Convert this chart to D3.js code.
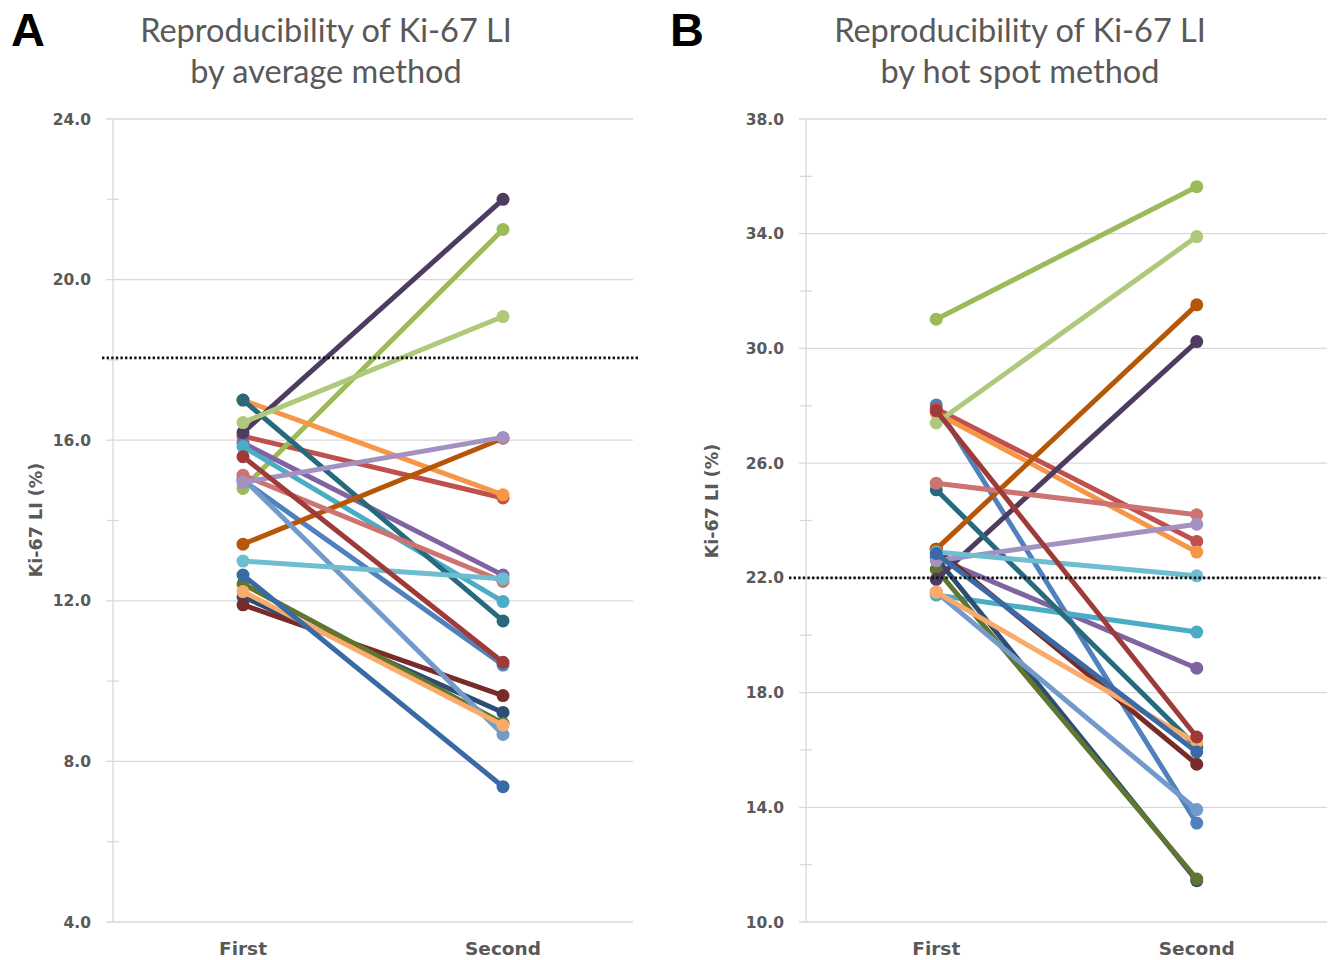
<!DOCTYPE html>
<html>
<head>
<meta charset="utf-8">
<script src="https://cdn.jsdelivr.net/npm/d3@7"></script>
<style>
  html, body { margin: 0; padding: 0; background: #ffffff; }
  svg { display: block; }
</style>
</head>
<body>
<svg id="chart" width="1333" height="960"></svg>
<script>
// ---------- DATA ----------
const categories = ["First", "Second"];
const seriesNames = ["S1","S2","S3","S4","S5","S6","S7","S8","S9","S10","S11","S12","S13","S14","S15","S16","S17","S18","S19","S20"];
const seriesColors = ["#4F81BD","#C0504D","#9BBB59","#8064A2","#4BACC6","#F79646",
                      "#2C4D75","#772C2A","#5F7530","#4D3B62","#276A7C","#B65708",
                      "#729ACA","#CD7371","#AFC97A","#A391C2","#6FBDD1","#F9AB6B",
                      "#3A6AA6","#9E3B39"];
// Panel A: average method  [First, Second]
const averageFirst  = [15.0, 16.1, 14.8, 15.93, 15.84, 17.0, 12.1, 11.9, 12.42, 16.19, 17.0, 13.41, 15.05, 15.13, 16.44, 14.95, 12.99, 12.23, 12.64, 15.59];
const averageSecond = [10.4, 14.56, 21.25, 12.64, 11.98, 14.64, 9.22, 9.64, 8.95, 22.0, 11.5, 16.05, 8.67, 12.48, 19.08, 16.07, 12.55, 8.9, 7.37, 10.47];
// Panel B: hot spot method  [First, Second]
const hotspotFirst  = [28.03, 27.9, 31.02, 22.7, 21.4, 27.75, 22.7, 23.0, 22.3, 21.95, 25.07, 23.0, 21.5, 25.3, 27.4, 22.6, 22.9, 21.5, 22.85, 27.83];
const hotspotSecond = [13.45, 23.27, 35.64, 18.85, 20.11, 22.9, 11.44, 15.5, 11.5, 30.24, 16.1, 31.52, 13.92, 24.2, 33.9, 23.87, 22.07, 16.25, 15.93, 16.45];

const averageTicks = [4, 8, 12, 16, 20, 24];
const averageMinor = [6, 10, 14, 18, 22];
const hotspotTicks = [10, 14, 18, 22, 26, 30, 34, 38];
const hotspotMinor = [12, 16, 20, 24, 28, 32, 36];
const averageCutoff = 18.05;
const hotspotCutoff = 22.0;

const yTitle = "Ki-67 LI (%)";
const panels = [
  { letter: "A", title: ["Reproducibility of Ki-67 LI", "by average method"],
    first: averageFirst, second: averageSecond, domain: [4, 24], ticks: averageTicks, minor: averageMinor,
    cutoff: averageCutoff,
    x0: 113, x1: 633, letterX: 11, titleX: 326, yTitleX: 36, yTitleY: 520, cutX: [102, 638] },
  { letter: "B", title: ["Reproducibility of Ki-67 LI", "by hot spot method"],
    first: hotspotFirst, second: hotspotSecond, domain: [10, 38], ticks: hotspotTicks, minor: hotspotMinor,
    cutoff: hotspotCutoff,
    x0: 806, x1: 1327, letterX: 670, titleX: 1020, yTitleX: 712, yTitleY: 501, cutX: [789, 1322] }
];

// ---------- DRAW ----------
const svg = d3.select("#chart");
const plotTop = 119, plotBottom = 922;
const grid = "#d9d9d9";
const textGray = "#595959";

panels.forEach(p => {
  const g = svg.append("g");
  const y = d3.scaleLinear().domain(p.domain).range([plotBottom, plotTop]);
  const x = d3.scalePoint().domain(categories).range([p.x0, p.x1]).padding(0.5);

  // gridlines
  g.selectAll("line.grid").data(p.ticks).join("line")
    .attr("x1", p.x0 - 7).attr("x2", p.x1)
    .attr("y1", d => y(d)).attr("y2", d => y(d))
    .attr("stroke", grid).attr("stroke-width", 1.3);
  // minor ticks
  g.selectAll("line.minor").data(p.minor).join("line")
    .attr("x1", p.x0 - 6).attr("x2", p.x0 + 6)
    .attr("y1", d => y(d)).attr("y2", d => y(d))
    .attr("stroke", grid).attr("stroke-width", 1.3);
  // y axis line
  g.append("line").attr("x1", p.x0).attr("x2", p.x0).attr("y1", plotTop).attr("y2", plotBottom)
    .attr("stroke", grid).attr("stroke-width", 1.3);

  // tick labels
  g.selectAll("text.tick").data(p.ticks).join("text")
    .attr("x", p.x0 - 22).attr("y", d => y(d)).attr("dy", "0.36em")
    .attr("text-anchor", "end")
    .attr("font-family", "DejaVu Sans, sans-serif").attr("font-weight", "bold")
    .attr("font-size", 15.5).attr("fill", textGray)
    .text(d => d3.format(".1f")(d));

  // x labels
  g.selectAll("text.cat").data(categories).join("text")
    .attr("x", d => x(d)).attr("y", 955)
    .attr("text-anchor", "middle")
    .attr("font-family", "DejaVu Sans, sans-serif").attr("font-weight", "bold")
    .attr("font-size", 18.5).attr("fill", textGray)
    .text(d => d);

  // y title
  g.append("text")
    .attr("transform", `translate(${p.yTitleX + 6},${p.yTitleY}) rotate(-90)`)
    .attr("text-anchor", "middle")
    .attr("font-family", "DejaVu Sans, sans-serif").attr("font-weight", "bold")
    .attr("font-size", 17.5).attr("fill", textGray)
    .text(yTitle);

  // series lines & markers
  const series = seriesNames.map((n, i) => ({ name: n, color: seriesColors[i],
    values: [{ c: categories[0], v: p.first[i] }, { c: categories[1], v: p.second[i] }] }));
  const line = d3.line().x(d => x(d.c)).y(d => y(d.v));
  series.forEach(s => {
    const sg = g.append("g");
    sg.append("path").attr("d", line(s.values))
      .attr("fill", "none").attr("stroke", s.color).attr("stroke-width", 5)
      .attr("stroke-linecap", "round");
    sg.selectAll("circle").data(s.values).join("circle")
      .attr("cx", d => x(d.c)).attr("cy", d => y(d.v)).attr("r", 6.5)
      .attr("fill", s.color);
  });

  // cutoff dotted line
  g.append("line")
    .attr("x1", p.cutX[0]).attr("x2", p.cutX[1])
    .attr("y1", y(p.cutoff)).attr("y2", y(p.cutoff))
    .attr("stroke", "#111").attr("stroke-width", 2.6)
    .attr("stroke-dasharray", "2.4,2.2");

  // panel letter
  g.append("text").attr("x", p.letterX).attr("y", 46)
    .attr("font-family", "Liberation Sans, Arial, sans-serif").attr("font-weight", "bold")
    .attr("font-size", 47).attr("fill", "#000").text(p.letter);

  // title
  const tt = g.append("text").attr("text-anchor", "middle")
    .attr("font-family", "Lato, 'Open Sans', sans-serif")
    .attr("font-size", 32.5).attr("fill", textGray);
  p.title.forEach((t, i) => {
    tt.append("tspan").attr("x", p.titleX).attr("y", 42 + i * 41).text(t);
  });
});
</script>
</body>
</html>
